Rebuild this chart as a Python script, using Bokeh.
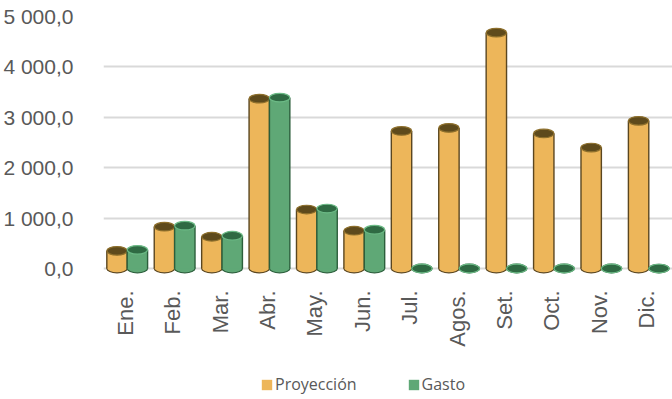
import math
from bokeh.plotting import figure
from bokeh.models import (FactorRange, Range1d, FixedTicker, CustomJSTickFormatter,
                          Legend, LegendItem, ColumnDataSource)
from bokeh.core.properties import value
from bokeh.transform import dodge
from bokeh.embed import file_html
from bokeh.resources import INLINE

months = ["Ene.", "Feb.", "Mar.", "Abr.", "May.", "Jun.", "Jul.", "Agos.",
          "Set.", "Oct.", "Nov.", "Dic."]
proyeccion = [350, 830, 630, 3370, 1170, 750, 2730, 2790, 4680, 2680, 2400, 2930]
gasto = [370, 850, 650, 3390, 1190, 770, 0, 0, 0, 0, 0, 0]
y_ticks = [0, 1000, 2000, 3000, 4000, 5000]
series_names = ["Proyección", "Gasto"]

src = ColumnDataSource(dict(month=months, proy=proyeccion, gasto=gasto,
                            zero=[0] * len(months)))

# frame spans down to the canvas bottom so month labels and legend live inside it
p = figure(width=672, height=399, x_range=FactorRange(*months, range_padding=0),
           y_range=Range1d(-2599, 5000), output_backend="svg", toolbar_location=None,
           min_border_left=101, min_border_right=0, min_border_top=16,
           min_border_bottom=0)
p.outline_line_color = None
p.background_fill_color = "white"
p.border_fill_color = "white"
p.xaxis.visible = False

p.xgrid.grid_line_color = None
p.ygrid.grid_line_color = "#d9d9d9"
p.ygrid.grid_line_width = 2
p.yaxis.ticker = FixedTicker(ticks=y_ticks)
p.yaxis.formatter = CustomJSTickFormatter(code="""
const s = tick.toFixed(1).split('.');
return s[0].replace(/\\B(?=(\\d{3})+(?!\\d))/g, ' ') + ',' + s[1];
""")
p.yaxis.axis_line_color = None
p.yaxis.major_tick_line_color = None
p.yaxis.minor_tick_line_color = None
p.yaxis.major_label_text_color = "#595959"
p.yaxis.major_label_text_font = "Liberation Sans"
p.yaxis.major_label_text_font_size = "21px"
p.yaxis.major_label_standoff = 24

bw = 0.43
eh = 170
styles = [
    ("proy", -0.215, "#EDB65A", "#5a4620", "#5e4a1c", "#8d6f2c"),
    ("gasto", 0.215, "#5FA876", "#2c5f3c", "#2f6a43", "#6cba86"),
]
bar_renderers = []
for col, off, fill, edge, topfill, topline in styles:
    x = dodge("month", off, range=p.x_range)
    p.ellipse(x=x, y="zero", width=bw, height=eh, source=src,
              fill_color=fill, line_color=edge, line_width=1.2)
    r = p.vbar(x=x, top=col, bottom=0, width=bw, source=src,
               fill_color=fill, line_color=None)
    bar_renderers.append(r)
    for side in (-bw / 2, bw / 2):
        p.segment(x0=dodge("month", off + side, range=p.x_range), y0="zero",
                  x1=dodge("month", off + side, range=p.x_range), y1=col,
                  source=src, line_color=edge, line_width=1.4)
    p.ellipse(x=x, y=col, width=bw, height=eh, source=src,
              fill_color=topfill, line_color=topline, line_width=1.2)

# month labels (category axis), rotated to read bottom-to-top
p.text(x="month", y="zero", text="month", source=src, angle=math.pi / 2,
       text_align="right", text_baseline="middle", x_offset=-2, y_offset=22,
       text_font=value("Liberation Sans"), text_font_size="22px",
       text_color="#595959")

legend = Legend(items=[LegendItem(label=series_names[i], renderers=[bar_renderers[i]])
                       for i in range(2)],
                orientation="horizontal", location=(157, 4),
                label_text_font="Open Sans", label_text_font_size="16px",
                label_text_color="#595959", glyph_width=13, glyph_height=13,
                label_standoff=2, spacing=50, padding=0, margin=0,
                border_line_color=None, background_fill_alpha=0)
p.add_layout(legend, "center")

open("out.html", "w").write(file_html(p, INLINE))
